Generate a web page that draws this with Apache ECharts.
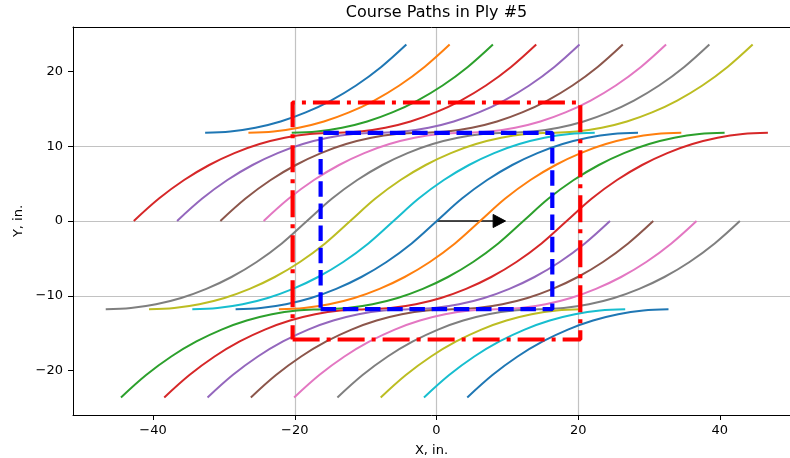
<!DOCTYPE html>
<html>
<head>
<meta charset="utf-8">
<title>Course Paths in Ply #5</title>
<script src="https://cdn.jsdelivr.net/npm/echarts@6/dist/echarts.min.js"></script>
<style>
  html, body { margin: 0; padding: 0; background: #ffffff; }
  #chart { width: 790px; height: 458px; }
</style>
</head>
<body>
<div id="chart"></div>
<script>
// One full course path: x distance from the path's lower end, and y (in.)
const profileU = [0, 3.55, 7.1, 10.65, 14.2, 17.75, 21.3, 24.85,
                  28.4, 31.95, 35.5, 39.05, 42.6, 46.15, 49.7, 53.25,
                  56.8, 60.35, 63.9, 67.45, 71.0, 74.55, 78.1, 81.65,
                  85.2, 88.75, 92.3, 95.85, 99.4, 102.95, 106.5, 110.05, 113.6];
const profileY = [-23.6, -20.6, -18.12, -16.11, -14.52, -13.31, -12.47, -11.97,
                  -11.8, -11.63, -11.13, -10.29, -9.08, -7.49, -5.48, -3.0,
                  0, 3.0, 5.48, 7.49, 9.08, 10.29, 11.13, 11.63,
                  11.8, 11.97, 12.47, 13.31, 14.52, 16.11, 18.12, 20.6, 23.6];
// Points per quarter of the profile
const QUARTER_PTS = 8;

// Lower-end x of every course, left to right
const courseStart = [-117.85, -111.74, -105.63, -99.52, -93.41, -87.30, -81.19,
                     -75.08, -68.97, -62.86, -56.75, -50.64, -44.53, -38.42,
                     -32.31, -26.20, -20.09, -13.98, -7.87, -1.76, 4.35];
// Range of profile quarters that each course keeps inside the ply
const quarterFrom = [3, 3, 3, 2, 2, 2, 2, 1, 1, 1, 1, 1, 0, 0, 0, 0, 0, 0, 0, 0, 0];
const quarterTo   = [4, 4, 4, 4, 4, 4, 4, 4, 4, 3, 3, 3, 3, 3, 2, 2, 2, 2, 1, 1, 1];

// Ply boundary (red) and inner region (blue), in.
const outerBoxX = [-20.3, 20.3];
const outerBoxY = [-15.85, 15.85];
const innerBoxX = [-16.35, 16.35];
const innerBoxY = [-11.8, 11.8];

// Reference direction arrow
const arrowStart = [0, 0];
const arrowDelta = [8, 0];

// Axis ranges and ticks
const xRange = [-51.3, 49.9];
const yRange = [-25.95, 25.95];
const xTicks = [-40, -20, 0, 20, 40];
const yTicks = [-20, -10, 0, 10, 20];

const palette = ['#1f77b4', '#ff7f0e', '#2ca02c', '#d62728', '#9467bd',
                 '#8c564b', '#e377c2', '#7f7f7f', '#bcbd22', '#17becf'];
const FONT = 'DejaVu Sans';
const GRID_LINE = { color: '#c2c2c2', width: 1.2 };

function closedBox(xs, ys) {
  return [[xs[0], ys[0]], [xs[1], ys[0]], [xs[1], ys[1]], [xs[0], ys[1]], [xs[0], ys[0]]];
}

function minusLabel(v) {
  return v < 0 ? '\u2212' + Math.abs(v) : String(v);
}

const series = [];

courseStart.forEach(function (c, k) {
  const pts = [];
  for (let i = quarterFrom[k] * QUARTER_PTS; i <= quarterTo[k] * QUARTER_PTS; i++) {
    pts.push([c + profileU[i], profileY[i]]);
  }
  series.push({
    type: 'line',
    data: pts,
    symbol: 'none',
    smooth: 0.35,
    silent: true,
    lineStyle: { color: palette[k % palette.length], width: 2 }
  });
});

series.push({
  type: 'line',
  data: closedBox(outerBoxX, outerBoxY),
  symbol: 'none',
  silent: true,
  lineStyle: { color: '#ff0000', width: 4.2, type: [27, 7, 4, 7], dashOffset: 0 }
});

series.push({
  type: 'line',
  data: closedBox(innerBoxX, innerBoxY),
  symbol: 'none',
  silent: true,
  lineStyle: { color: '#0000ff', width: 4.2, type: [15.5, 6.7], dashOffset: 0 }
});

// Arrow: shaft of length arrowDelta, head drawn beyond it
const HEAD_LEN = 1.75;
const HEAD_W = 1.75;
series.push({
  type: 'custom',
  silent: true,
  data: [[arrowStart[0], arrowStart[1]]],
  encode: { x: 0, y: 1 },
  renderItem: function (params, api) {
    const x0 = arrowStart[0], y0 = arrowStart[1];
    const x1 = x0 + arrowDelta[0], y1 = y0 + arrowDelta[1];
    const p0 = api.coord([x0, y0]);
    const p1 = api.coord([x1, y1]);
    const tip = api.coord([x1 + HEAD_LEN, y1]);
    const up = api.coord([x1, y1 + HEAD_W / 2]);
    const dn = api.coord([x1, y1 - HEAD_W / 2]);
    return {
      type: 'group',
      children: [
        { type: 'line', shape: { x1: p0[0], y1: p0[1], x2: p1[0], y2: p1[1] },
          style: { stroke: '#111111', lineWidth: 1.6 } },
        { type: 'polygon', shape: { points: [up, tip, dn] },
          style: { fill: '#000000', stroke: '#000000', lineWidth: 1 } }
      ]
    };
  }
});

const chart = echarts.init(document.getElementById('chart'), null, { renderer: 'canvas' });
chart.setOption({
  animation: false,
  backgroundColor: '#ffffff',
  textStyle: { fontFamily: FONT },
  title: {
    text: 'Course Paths in Ply #5',
    left: 436.5,
    top: 5,
    padding: 0,
    textAlign: 'center',
    textStyle: { fontFamily: FONT, fontSize: 16, fontWeight: 'normal', color: '#000000' }
  },
  grid: { left: 73, top: 27, right: 0, height: 388, containLabel: false, outerBoundsMode: 'none' },
  xAxis: [{
    type: 'value',
    position: 'bottom',
    min: xRange[0],
    max: xRange[1],
    splitNumber: 5,
    name: 'X, in.',
    nameLocation: 'middle',
    nameGap: 29,
    nameTextStyle: { fontFamily: FONT, fontSize: 13, color: '#000000' },
    axisLine: { show: true, onZero: false, lineStyle: { color: '#000000', width: 1 } },
    axisTick: { show: true, length: 5, customValues: xTicks,
                lineStyle: { color: '#000000', width: 1 } },
    axisLabel: { fontFamily: FONT, fontSize: 13, color: '#000000', margin: 9,
                 customValues: xTicks, formatter: minusLabel },
    splitLine: { show: true, showMinLine: false, showMaxLine: false, lineStyle: GRID_LINE }
  }, {
    type: 'value',
    position: 'top',
    min: xRange[0],
    max: xRange[1],
    axisLine: { show: true, onZero: false, lineStyle: { color: '#000000', width: 1 } },
    axisTick: { show: false },
    axisLabel: { show: false },
    splitLine: { show: false }
  }],
  yAxis: {
    type: 'value',
    min: yRange[0],
    max: yRange[1],
    splitNumber: 5,
    name: 'Y, in.',
    nameLocation: 'middle',
    nameGap: 48,
    nameRotate: 90,
    nameTextStyle: { fontFamily: FONT, fontSize: 13, color: '#000000' },
    axisLine: { show: true, onZero: false, lineStyle: { color: '#000000', width: 1 } },
    axisTick: { show: true, length: 5, customValues: yTicks,
                lineStyle: { color: '#000000', width: 1 } },
    axisLabel: { fontFamily: FONT, fontSize: 13, color: '#000000', margin: 10,
                 customValues: yTicks, formatter: minusLabel },
    splitLine: { show: true, showMinLine: false, showMaxLine: false, lineStyle: GRID_LINE }
  },
  series: series
});
</script>
</body>
</html>
